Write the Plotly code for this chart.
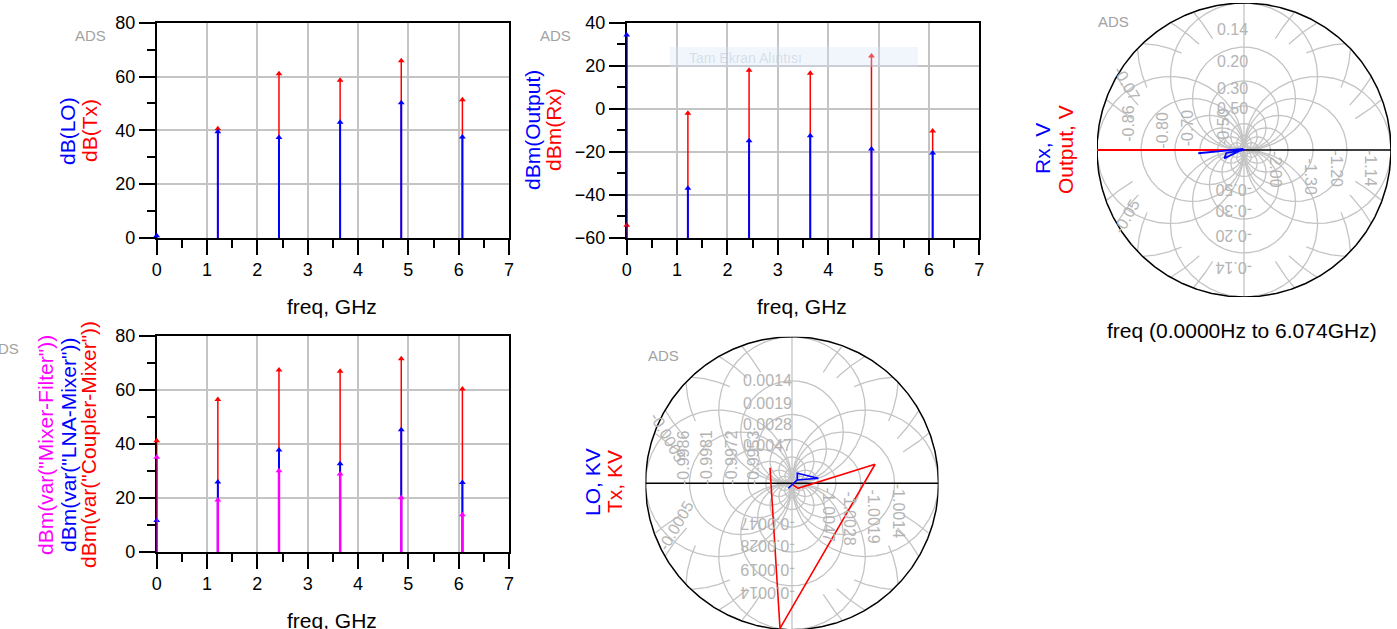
import numpy as np
import plotly.graph_objects as go

W, H = 1397, 629
FONT = "Liberation Sans, Arial, sans-serif"
BLUE, RED, MAG = "#0000ff", "#ff0000", "#ff00ff"
GRID_GRAY = "#c4c4c4"
LABEL_GRAY = "#b4b4b4"

# ---------------- data ----------------
freq = [0.0, 1.2148, 2.4296, 3.6444, 4.8592, 6.074]

db_lo = [0.8, 39.5, 37.3, 43.0, 50.3, 37.5]
db_tx = [None, 40.6, 61.0, 58.6, 65.9, 51.4]

dbm_output = [34.3, -36.9, -14.8, -12.5, -18.7, -20.5]
dbm_rx = [-54.1, -2.1, 17.9, 16.5, 24.5, -10.3]

dbm_coupler_mixer = [41.2, 56.5, 67.4, 66.9, 71.6, 60.4]
dbm_lna_mixer = [11.7, 25.9, 37.8, 32.7, 45.3, 25.7]
dbm_mixer_filter = [35.1, 19.3, 30.1, 28.9, 20.1, 13.8]

# Smith chart traces (normalized chart-plane coordinates)
output_re = [-1.0, -0.02, -0.01, 0.0, 0.004, 0.0]
output_im = [0.0, 0.0, 0.0, 0.0, 0.0, 0.0]
rx_re = [-0.311, -0.005, -0.134, -0.12, 0.0, 0.003]
rx_im = [-0.022, 0.007, -0.057, -0.02, 0.0, -0.003]

lo_re = [-0.025, 0.036, 0.036, 0.18, 0.036, 0.01]
lo_im = [-0.034, 0.023, 0.068, 0.034, 0.023, 0.0]
tx_re = [0.0, 0.01, 0.041, 0.567, -0.082, -0.15]
tx_im = [0.0, -0.012, -0.034, 0.13, -0.99, 0.106]

# Smith grid labels
top_lbl_up = ["0.14", "0.20", "0.30", "0.50"]
top_lbl_dn = ["-0.14", "-0.20", "-0.30", "-0.50"]
top_lbl_rt = ["-1.14", "-1.20", "-1.30", "-2.00"]
top_lbl_lt = ["-0.86", "-0.80", "-0.70", "-0.50"]
top_lbl_corner = ["-0.07", "-0.05"]

bot_lbl_up = ["0.0014", "0.0019", "0.0028", "0.0047"]
bot_lbl_dn = ["-0.0014", "-0.0019", "-0.0028", "-0.0047"]
bot_lbl_rt = ["-1.0014", "-1.0019", "-1.0028", "-1.0047"]
bot_lbl_lt = ["-0.9986", "-0.9981", "-0.9972", "-0.9953"]
bot_lbl_corner = ["-0.0005", "-0.0005"]


def P(x):
    return x / W


def Q(y):
    return 1 - y / H


fig = go.Figure()


def stems(f, vals, base, color, xa, ya, width):
    xs, ys, mx, my = [], [], [], []
    for fx, v in zip(f, vals):
        if v is None:
            continue
        xs += [fx, fx, None]
        ys += [base, v, None]
        mx.append(fx)
        my.append(v)
    fig.add_trace(go.Scatter(x=xs, y=ys, mode="lines", line=dict(color=color, width=width),
                             cliponaxis=False, xaxis=xa, yaxis=ya, hoverinfo="skip", showlegend=False))
    fig.add_trace(go.Scatter(x=mx, y=my, mode="markers", cliponaxis=False,
                             marker=dict(symbol="triangle-up", size=6, color=color, line=dict(width=0)),
                             xaxis=xa, yaxis=ya, showlegend=False))


# top-left
stems(freq, db_tx, 0, RED, "x", "y", 1.5)
stems(freq, db_lo, 0, BLUE, "x", "y", 2.0)
# top-middle
stems(freq, dbm_rx, -60, RED, "x2", "y2", 1.5)
stems(freq, dbm_output, -60, BLUE, "x2", "y2", 2.0)
# bottom-left
stems(freq, dbm_coupler_mixer, 0, RED, "x3", "y3", 1.5)
stems(freq, dbm_lna_mixer, 0, BLUE, "x3", "y3", 2.0)
stems(freq, dbm_mixer_filter, 0, MAG, "x3", "y3", 2.4)


# ---------------- smith grids ----------------
def smith_grid(xa, ya):
    t = np.linspace(0, 2 * np.pi, 721)
    gx, gy = [], []
    dirs = [(0, 1), (0, -1), (1, 0), (-1, 0)]
    for dx, dy in dirs:
        for d in [1.0, 0.7, 0.47, 0.3, 0.18, 0.1, 0.05]:
            r = d / 2
            cx, cy = dx * r, dy * r
            gx += list(cx + r * np.cos(t)) + [None]
            gy += list(cy + r * np.sin(t)) + [None]
        for d in [1.45, 2.0, 2.9]:
            r = d / 2
            cx, cy = dx * r, dy * r
            px = cx + r * np.cos(t)
            py = cy + r * np.sin(t)
            rr = np.hypot(px, py)
            ok = (rr >= 0.78) & (rr <= 1.0)
            for i in range(len(t)):
                if ok[i]:
                    gx.append(float(px[i]))
                    gy.append(float(py[i]))
                else:
                    gx.append(None)
                    gy.append(None)
            gx.append(None)
            gy.append(None)
    gx += [0, 0, None]
    gy += [-1, 1, None]
    fig.add_trace(go.Scatter(x=gx, y=gy, mode="lines", line=dict(color=GRID_GRAY, width=1.3),
                             xaxis=xa, yaxis=ya, hoverinfo="skip", showlegend=False))
    ox = list(np.cos(t)) + [None, -1, 1]
    oy = list(np.sin(t)) + [None, 0, 0]
    fig.add_trace(go.Scatter(x=ox, y=oy, mode="lines", line=dict(color="black", width=1.5),
                             xaxis=xa, yaxis=ya, hoverinfo="skip", showlegend=False))


smith_grid("x4", "y4")
smith_grid("x5", "y5")

fig.add_trace(go.Scatter(x=output_re, y=output_im, mode="lines", line=dict(color=RED, width=1.8),
                         xaxis="x4", yaxis="y4", showlegend=False))
fig.add_trace(go.Scatter(x=rx_re, y=rx_im, mode="lines", line=dict(color=BLUE, width=1.8),
                         xaxis="x4", yaxis="y4", showlegend=False))
fig.add_trace(go.Scatter(x=tx_re, y=tx_im, mode="lines", line=dict(color=RED, width=1.6),
                         xaxis="x5", yaxis="y5", showlegend=False))
fig.add_trace(go.Scatter(x=lo_re, y=lo_im, mode="lines", line=dict(color=BLUE, width=1.6),
                         xaxis="x5", yaxis="y5", showlegend=False))

# ---------------- axes ----------------
tickfont = dict(size=18, color="black", family=FONT)


def cart_axes(xr, yr, ydt, ymdt):
    xa = dict(range=xr, dtick=1, tick0=0, showline=True, linecolor="black", linewidth=1.5, mirror=True,
              showgrid=True, gridcolor=GRID_GRAY, gridwidth=1.5, zeroline=False, ticks="outside",
              ticklen=15, tickwidth=1.5, tickcolor="black", tickfont=tickfont, fixedrange=True,
              automargin=False, layer="below traces",
              minor=dict(dtick=0.5, tick0=0, ticks="outside", ticklen=8, tickwidth=1.5,
                         tickcolor="black", showgrid=False))
    ya = dict(range=yr, dtick=ydt, tick0=yr[0], showline=True, linecolor="black", linewidth=1.5, mirror=True,
              showgrid=True, gridcolor=GRID_GRAY, gridwidth=1.5, zeroline=False, ticks="outside",
              ticklen=16, tickwidth=1.5, tickcolor="black", tickfont=tickfont, fixedrange=True,
              automargin=False, layer="below traces",
              minor=dict(dtick=ymdt, tick0=yr[0], ticks="outside", ticklen=8, tickwidth=1.5,
                         tickcolor="black", showgrid=False))
    return xa, ya


xa1, ya1 = cart_axes([0, 7], [0, 80], 20, 10)
xa2, ya2 = cart_axes([0, 7], [-60, 40], 20, 10)
xa3, ya3 = cart_axes([0, 7], [0, 80], 20, 10)

xa1["domain"] = [P(156.7), P(509)]
ya1["domain"] = [Q(238), Q(22.7)]
xa2["domain"] = [P(626.7), P(979.3)]
ya2["domain"] = [Q(238), Q(22.7)]
xa3["domain"] = [P(156.7), P(509)]
ya3["domain"] = [Q(552), Q(336)]
xa2["anchor"] = "y2"
ya2["anchor"] = "x2"
xa3["anchor"] = "y3"
ya3["anchor"] = "x3"

hidden = dict(showgrid=False, zeroline=False, showticklabels=False, showline=False, ticks="",
              fixedrange=True, automargin=False)
c4x, c4y, R4 = 1244, 150, 147
c5x, c5y, R5 = 792, 483.3, 146.5
xa4 = dict(hidden, domain=[P(c4x - R4), P(c4x + R4)], range=[-1, 1], anchor="y4")
ya4 = dict(hidden, domain=[Q(c4y + R4), Q(c4y - R4)], range=[-1, 1], anchor="x4")
xa5 = dict(hidden, domain=[P(c5x - R5), P(c5x + R5)], range=[-1, 1], anchor="y5")
ya5 = dict(hidden, domain=[0, Q(c5y - R5)], range=[(c5y - H) / R5, 1], anchor="x5")

# ---------------- annotations ----------------
anns = []


def ann(text, x, y, color="black", size=21, angle=0, xref="paper", yref="paper"):
    if xref == "paper":
        x = P(x)
    if yref == "paper":
        y = Q(y)
    anns.append(dict(text=text, x=x, y=y, xref=xref, yref=yref, showarrow=False, textangle=angle,
                     xanchor="center", yanchor="middle",
                     font=dict(size=size, color=color, family=FONT)))


ann("freq, GHz", 332, 306)
ann("freq, GHz", 802, 306.5)
ann("freq, GHz", 332, 620)
ann("freq (0.0000Hz to 6.074GHz)", 1242, 330)

ann("dB(LO)", 67, 131, BLUE, angle=-90)
ann("dB(Tx)", 89, 131, RED, angle=-90)
ann("dBm(Output)", 532, 130, BLUE, angle=-90)
ann("dBm(Rx)", 553, 130, RED, angle=-90)
ann('dBm(var("Mixer-Filter"))', 45, 445, MAG, angle=-90)
ann('dBm(var("LNA-Mixer"))', 68, 445, BLUE, angle=-90)
ann('dBm(var("Coupler-Mixer"))', 88, 445, RED, angle=-90)
ann("Rx, V", 1043, 149, BLUE, angle=-90)
ann("Output, V", 1065, 150, RED, angle=-90)
ann("LO, KV", 593, 482, BLUE, angle=-90)
ann("Tx, KV", 615, 482, RED, angle=-90)

for (ax_, ay_) in [(90, 35), (555, 35), (1113, 22), (663, 355), (3, 349)]:
    ann("ADS", ax_, ay_, "#a2a2a2", size=15)

for txt, yy in zip(top_lbl_up, [0.82, 0.60, 0.42, 0.28]):
    ann(txt, -0.075, yy, LABEL_GRAY, 16, 0, "x4", "y4")
for txt, yy in zip(top_lbl_dn, [-0.80, -0.58, -0.41, -0.27]):
    ann(txt, -0.075, yy, LABEL_GRAY, 16, 180, "x4", "y4")
for txt, xx, yy in zip(top_lbl_rt, [0.86, 0.63, 0.45, 0.21], [-0.125, -0.13, -0.18, -0.136]):
    ann(txt, xx, yy, LABEL_GRAY, 16, 90, "x4", "y4")
for txt, xx, yy in zip(top_lbl_lt, [-0.787, -0.56, -0.379, -0.14], [0.18, 0.136, 0.15, 0.16]):
    ann(txt, xx, yy, LABEL_GRAY, 16, -90, "x4", "y4")
ann(top_lbl_corner[0], -0.80, 0.45, LABEL_GRAY, 16, 60, "x4", "y4")
ann(top_lbl_corner[1], -0.80, -0.45, LABEL_GRAY, 16, -60, "x4", "y4")

for txt, yy in zip(bot_lbl_up, [0.705, 0.546, 0.398, 0.261]):
    ann(txt, -0.165, yy, LABEL_GRAY, 16, 0, "x5", "y5")
for txt, yy in zip(bot_lbl_dn, [-0.75, -0.59, -0.42, -0.27]):
    ann(txt, -0.165, yy, LABEL_GRAY, 16, 180, "x5", "y5")
for txt, xx, yy in zip(bot_lbl_rt, [0.726, 0.555, 0.396, 0.248], [-0.19, -0.228, -0.24, -0.216]):
    ann(txt, xx, yy, LABEL_GRAY, 16, 90, "x5", "y5")
for txt, xx in zip(bot_lbl_lt, [-0.742, -0.582, -0.41, -0.264]):
    ann(txt, xx, 0.175, LABEL_GRAY, 16, -90, "x5", "y5")
ann(bot_lbl_corner[0], -0.85, 0.31, LABEL_GRAY, 16, 60, "x5", "y5")
ann(bot_lbl_corner[1], -0.79, -0.29, LABEL_GRAY, 16, -60, "x5", "y5")

ann("Tam Ekran Alıntısı", 746, 58, "rgba(175,195,215,0.45)", 14)

fig.update_layout(
    template="none",
    width=W, height=H, autosize=False,
    margin=dict(l=0, r=0, t=0, b=0, pad=0),
    paper_bgcolor="white", plot_bgcolor="white",
    showlegend=False,
    xaxis=xa1, yaxis=ya1, xaxis2=xa2, yaxis2=ya2, xaxis3=xa3, yaxis3=ya3,
    xaxis4=xa4, yaxis4=ya4, xaxis5=xa5, yaxis5=ya5,
    annotations=anns,
    shapes=[dict(type="rect", xref="paper", yref="paper", x0=P(670), x1=P(918), y0=Q(67), y1=Q(47),
                 fillcolor="rgba(215,230,245,0.35)", line=dict(width=0), layer="above")],
    font=dict(family=FONT),
)

fig.write_html("out.html", config={"displayModeBar": False},
               post_script="document.body.style.margin='0';document.body.style.overflow='hidden';")
